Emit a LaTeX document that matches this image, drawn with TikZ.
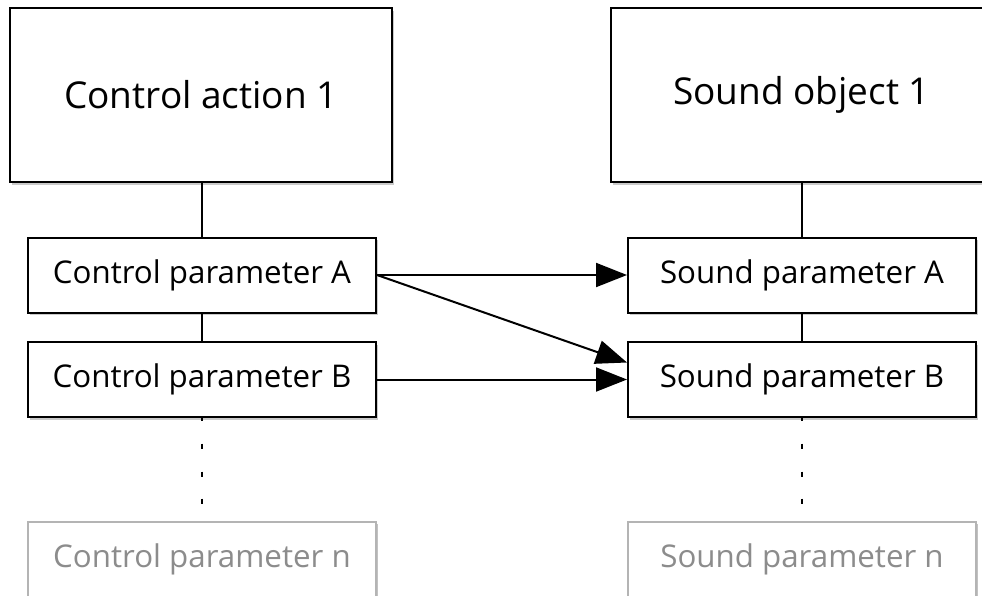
\documentclass[tikz,border=0pt]{standalone}
\usepackage{fontspec}
\setmainfont{Open Sans}
\usetikzlibrary{arrows.meta,shadows,calc}
\definecolor{greyline}{HTML}{B4B4B4}
\definecolor{greytext}{HTML}{8C8C8C}
\tikzset{
  box/.style={draw=black, line width=2pt, fill=white, inner sep=0pt,
    drop shadow={shadow xshift=2pt, shadow yshift=-2.5pt, opacity=0.35, fill=black!60}},
  bigbox/.style={box, minimum width=382pt, minimum height=174pt, font=\fontsize{37}{42}\selectfont},
  parbox/.style={box, minimum width=348pt, minimum height=75pt, font=\fontsize{31.3}{36}\selectfont},
  greybox/.style={parbox, draw=greyline, text=greytext,
    drop shadow={shadow xshift=2pt, shadow yshift=-2.5pt, opacity=0.15, fill=black!40}},
  link/.style={line width=2pt},
  dotlink/.style={line width=2pt, dash pattern=on 3pt off 22.5pt on 5pt off 23pt on 5pt off 22pt on 5pt off 40pt},
  flow/.style={line width=2pt, -{Triangle[length=31pt, width=24pt]}}
}
\begin{document}
\begin{tikzpicture}[x=1pt, y=-1pt]
\useasboundingbox (0,0) rectangle (982,595);
\clip (0,0) rectangle (982,595);
% left column
\node[bigbox] (act) at (201,95) {Control action 1};
\node[parbox] (ca) at (202,275) {Control parameter A};
\node[parbox] (cb) at (202,379.5) {Control parameter B};
\node[greybox] (cn) at (202,559) {Control parameter n};
% right column
\node[bigbox] (obj) at (801.5,95) {Sound object 1};
\node[parbox] (sa) at (802,275) {Sound parameter A};
\node[parbox] (sb) at (802,379.5) {Sound parameter B};
\node[greybox] (sn) at (802,559) {Sound parameter n};
% vertical connectors
\draw[link] (act.south -| ca.north) -- (ca.north);
\draw[link] (ca.south) -- (cb.north);
\draw[dotlink] (cb.south) -- (cn.north);
\draw[link] (obj.south -| sa.north) -- (sa.north);
\draw[link] (sa.south) -- (sb.north);
\draw[dotlink] (sb.south) -- (sn.north);
% arrows
\coordinate (sbtop) at ($(sb.west)+(0,-17)$);
\draw[flow] (ca.east) -- (sa.west);
\draw[flow] (ca.east) -- (sbtop);
\draw[flow] (cb.east) -- (sb.west);
\end{tikzpicture}
\end{document}
